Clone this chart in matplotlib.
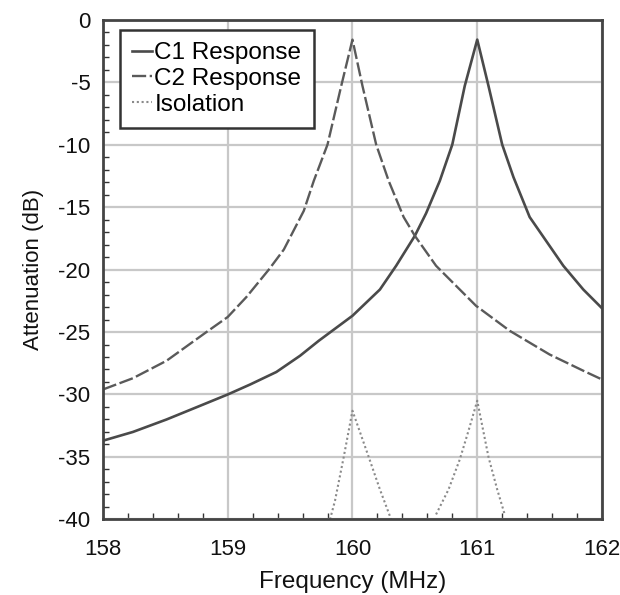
import numpy as np
import matplotlib.pyplot as plt
from matplotlib.ticker import MultipleLocator

# values
c1_freq = [158.0, 158.24, 158.51, 158.78, 159.0, 159.18, 159.39, 159.58, 159.73, 160.0,
           160.22, 160.35, 160.5, 160.59, 160.7, 160.8, 160.9, 161.0, 161.09, 161.2,
           161.29, 161.42, 161.69, 161.85, 162.0]
c1_db = [-33.7, -33.0, -32.0, -30.9, -30.0, -29.2, -28.2, -26.9, -25.7, -23.7,
         -21.6, -19.7, -17.3, -15.5, -12.9, -10.0, -5.3, -1.6, -5.3, -10.0,
         -12.6, -15.8, -19.7, -21.6, -23.1]

c2_freq = [158.0, 158.24, 158.51, 158.83, 159.0, 159.15, 159.33, 159.45, 159.61, 159.69,
           159.8, 159.91, 160.0, 160.08, 160.19, 160.29, 160.41, 160.5, 160.67, 160.99,
           161.26, 161.58, 161.85, 162.0]
c2_db = [-29.6, -28.7, -27.3, -25.0, -23.8, -22.2, -20.0, -18.4, -15.3, -12.9,
         -10.0, -5.3, -1.6, -5.3, -10.0, -12.9, -15.8, -17.3, -19.7, -22.9,
         -24.9, -26.8, -28.1, -28.8]

iso_freq = [159.82, 159.86, 159.93, 160.0, 160.13, 160.22, 160.31, np.nan,
            160.67, 160.77, 160.86, 160.93, 161.0, 161.09, 161.16, 161.22]
iso_db = [-40.0, -38.5, -35.0, -31.3, -35.0, -37.6, -40.0, np.nan,
          -39.6, -37.6, -35.2, -32.9, -30.5, -35.0, -37.6, -39.6]

x_ticks = [158, 159, 160, 161, 162]
y_ticks = [0, -5, -10, -15, -20, -25, -30, -35, -40]

plt.rcParams['font.family'] = ['Liberation Sans', 'DejaVu Sans']
plt.rcParams['axes.unicode_minus'] = False

fig = plt.figure(figsize=(6.2, 5.95), dpi=100)
ax = fig.add_axes([0.166, 0.127, 0.805, 0.840])

ax.plot(c1_freq, c1_db, color='#4a4a4a', lw=1.9, ls='-', label='C1 Response')
ax.plot(c2_freq, c2_db, color='#5a5a5a', lw=1.7, ls=(0, (6, 1.5)), label='C2 Response')
ax.plot(iso_freq, iso_db, color='#8a8a8a', lw=1.5, ls=(0, (1, 1.3)), label='Isolation')

ax.set_xlim(158, 162)
ax.set_ylim(-40, 0)
ax.set_xticks(x_ticks)
ax.set_yticks(y_ticks)
ax.xaxis.set_minor_locator(MultipleLocator(0.2))
ax.yaxis.set_minor_locator(MultipleLocator(1))
ax.tick_params(which='both', direction='in', top=False, right=False, colors='#333333',
               labelcolor='#111111', labelsize=16)
ax.tick_params(which='major', length=0)
ax.tick_params(axis='x', which='major', pad=14)
ax.tick_params(axis='y', which='major', pad=9)
ax.tick_params(which='minor', length=4, width=1)

ax.grid(True, which='major', color='#c8c8c8', lw=1.6)
for s in ax.spines.values():
    s.set_color('#444444')
    s.set_linewidth(2)

ax.set_xlabel('Frequency (MHz)', fontsize=17.5, color='#111111', labelpad=8)
ax.set_ylabel('Attenuation (dB)', fontsize=16, color='#111111', labelpad=10)

leg = ax.legend(loc='upper left', bbox_to_anchor=(0.034, 0.979), borderaxespad=0,
                fontsize=17.5, handlelength=0.82, handletextpad=0.1, borderpad=0.5,
                labelspacing=0.15, fancybox=False, framealpha=1, edgecolor='#333333')
leg.get_frame().set_linewidth(1.8)

fig.savefig('out.png', dpi=100)
